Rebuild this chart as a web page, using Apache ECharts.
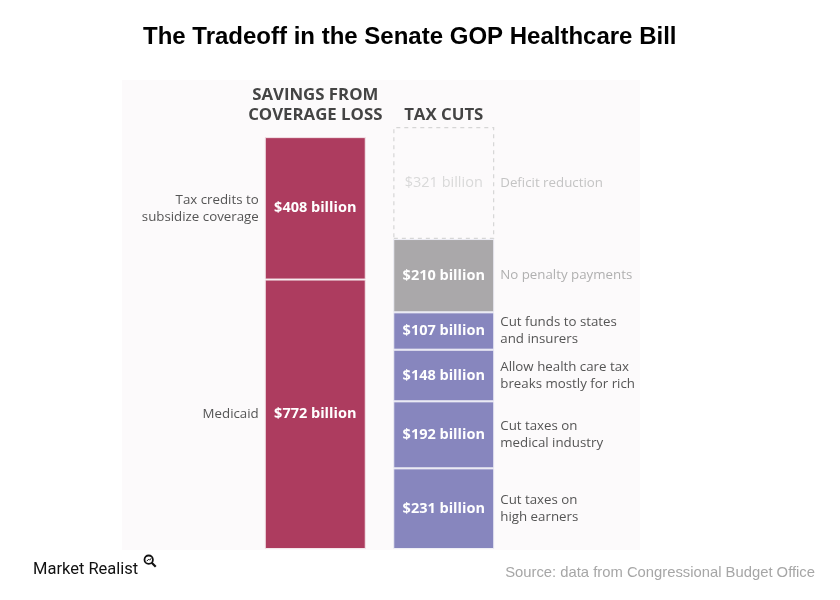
<!DOCTYPE html>
<html>
<head>
<meta charset="utf-8">
<script src="https://cdn.jsdelivr.net/npm/echarts@6/dist/echarts.min.js"></script>
<style>html,body{margin:0;padding:0;background:#fff}#c{width:840px;height:600px}</style>
</head>
<body>
<div id="c"></div>
<script>
// ---- data ----
var categories = ['SAVINGS FROM\nCOVERAGE LOSS', 'TAX CUTS'];
// left bar (bottom to top)
var savingsNames = ['Medicaid', 'Tax credits to\nsubsidize coverage'];
var savingsValues = [772, 408];
// right bar (bottom to top)
var taxNames = ['Cut taxes on\nhigh earners', 'Cut taxes on\nmedical industry', 'Allow health care tax\nbreaks mostly for rich', 'Cut funds to states\nand insurers', 'No penalty payments', 'Deficit reduction'];
var taxValues = [231, 192, 148, 107, 210, 321];
var taxKinds = ['cut', 'cut', 'cut', 'cut', 'penalty', 'deficit'];

var chart = echarts.init(document.getElementById('c'));
var font = '"Open Sans", "Noto Sans", sans-serif';
var red = '#ad3c5f', purple = '#8786be', gray = '#aaa8aa';

var series = [];
function fmt(v){ return '$' + v + ' billion'; }

savingsValues.forEach(function (v, i) {
  series.push({
    type: 'bar', stack: 'main', barWidth: 101, barGap: '-100%',
    data: [v, '-'],
    itemStyle: { color: red, borderColor: '#f4e6ea', borderWidth: 1 },
    label: { show: true, position: 'inside', formatter: fmt(v), color: '#fff', fontWeight: 'bold', fontSize: 14.5, fontFamily: font },
    silent: true
  });
  series.push({
    type: 'bar', stack: 'side', barWidth: 101, barGap: '-100%',
    data: [v, '-'],
    itemStyle: { color: 'rgba(0,0,0,0)' },
    label: { show: true, position: 'left', distance: 6, formatter: savingsNames[i], color: '#555', fontSize: 13.3, lineHeight: 17, fontFamily: font, align: 'right' },
    silent: true
  });
});

taxValues.forEach(function (v, i) {
  var k = taxKinds[i];
  var item = k === 'deficit'
    ? { color: 'rgba(255,255,255,0)', borderColor: '#d6d6d6', borderWidth: 1.2, borderType: [4, 4] }
    : { color: k === 'penalty' ? gray : purple, borderColor: '#eeeef6', borderWidth: 1 };
  series.push({
    type: 'bar', stack: 'main', barWidth: 101, barGap: '-100%',
    data: ['-', v],
    itemStyle: item,
    label: { show: true, position: 'inside', formatter: fmt(v),
      color: k === 'deficit' ? '#d9d9d9' : '#fff', fontWeight: k === 'deficit' ? 'normal' : 'bold', fontSize: 14.5, fontFamily: font },
    silent: true
  });
  series.push({
    type: 'bar', stack: 'side', barWidth: 101, barGap: '-100%',
    data: ['-', v],
    itemStyle: { color: 'rgba(0,0,0,0)' },
    label: { show: true, position: 'right', distance: 6, formatter: taxNames[i],
      color: k === 'deficit' ? '#c4c4c4' : (k === 'penalty' ? '#b0b0b0' : '#555'),
      fontSize: 13.3, lineHeight: 17, fontFamily: font, align: 'left' },
    silent: true
  });
});

var total = taxValues.reduce(function (a, b) { return a + b; }, 0);

chart.setOption({
  animation: false,
  backgroundColor: '#fff',
  title: [{
    text: 'The Tradeoff in the Senate GOP Healthcare Bill',
    left: 138, top: 20,
    textStyle: { fontFamily: 'Arial, "Liberation Sans", sans-serif', fontSize: 24, fontWeight: 'bold', color: '#000' }
  }, {
    text: 'Source: data from Congressional Budget Office',
    right: 20, top: 560,
    textStyle: { fontFamily: '"Liberation Sans Narrow", "Arial Narrow", Arial, sans-serif', fontSize: 14.8, fontWeight: 'normal', color: '#a6a6a6' }
  }, {
    text: 'Market Realist',
    left: 28, top: 556,
    textStyle: { fontFamily: '"Liberation Sans Narrow", Roboto, sans-serif', fontSize: 16.5, fontWeight: 'normal', color: '#111' }
  }],
  graphic: [{
    type: 'rect', z: -10, silent: true,
    shape: { x: 122, y: 80, width: 518, height: 470 },
    style: { fill: '#fcfafb' }
  }, {
    type: 'group', left: 142, top: 553, z: 10,
    children: [
      { type: 'circle', shape: { cx: 5, cy: 5, r: 4.2 }, style: { fill: 'none', stroke: '#111', lineWidth: 1.8 } },
      { type: 'line', shape: { x1: 8, y1: 8, x2: 12, y2: 12 }, style: { stroke: '#111', lineWidth: 2.2 } },
      { type: 'polyline', shape: { points: [[3, 6.5], [5, 4.5], [6, 5.5], [7.5, 3.5]] }, style: { stroke: '#111', lineWidth: 1, fill: 'none' } }
    ]
  }],
  grid: { left: 251, width: 257, top: 127, bottom: 51, containLabel: false },
  xAxis: {
    type: 'category', data: categories, position: 'top',
    axisLine: { show: false }, axisTick: { show: false },
    axisLabel: { color: '#444', fontSize: 16.8, fontWeight: 'bold', lineHeight: 20, fontFamily: '"Open Sans", "Noto Sans", sans-serif', margin: 2, interval: 0 }
  },
  yAxis: {
    type: 'value', min: 0, max: total, show: false,
    splitLine: { show: false }
  },
  series: series
});
</script>
</body>
</html>
